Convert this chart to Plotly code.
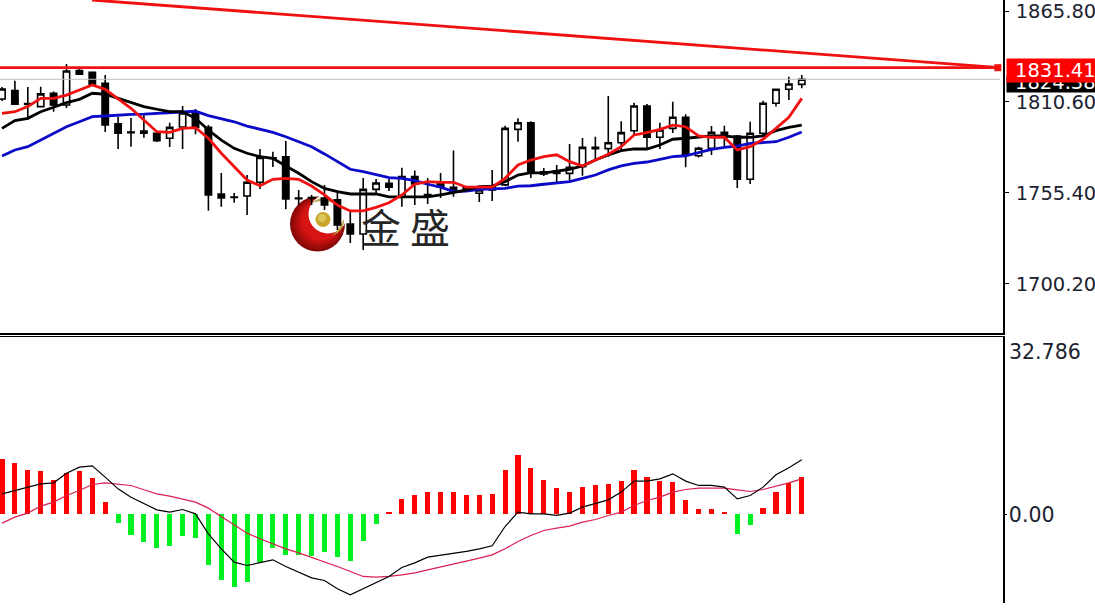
import plotly.graph_objects as go

idx = list(range(63))
opens = [1812.4,1817.5,1809.7,1807.8,1815.9,1808.8,1829.6,1828.6,1821.9,1797.3,1792.4,1793.0,1791.6,1788.6,1795.4,1803.9,1795.2,1754.8,1753.0,1753.6,1761.9,1776.8,1777.4,1752.4,1752.6,1752.4,1751.2,1736.6,1730.5,1757.6,1761.3,1753.1,1765.3,1754.4,1760.9,1758.9,1759.0,1755.2,1759.6,1760.3,1794.0,1798.0,1768.3,1768.7,1767.3,1771.3,1783.1,1782.3,1785.9,1793.2,1808.2,1789.2,1794.6,1801.3,1778.0,1782.5,1792.2,1790.0,1763.7,1791.6,1809.8,1818.3,1821.3]
highs = [1819.7,1823.5,1819.7,1819.9,1816.9,1833.6,1832.0,1829.0,1827.0,1801.7,1800.9,1802.7,1792.6,1798.0,1808.2,1806.4,1796.6,1767.5,1755.4,1766.3,1782.1,1780.4,1786.9,1757.2,1754.2,1760.2,1756.2,1744.1,1764.5,1763.9,1763.9,1770.7,1769.0,1764.5,1767.5,1781.1,1759.6,1759.6,1769.4,1796.2,1800.7,1798.9,1770.6,1772.4,1785.1,1788.8,1789.5,1814.2,1798.9,1810.2,1809.4,1798.0,1810.8,1803.1,1783.5,1796.0,1796.2,1790.6,1798.6,1811.4,1818.8,1825.9,1827.0]
lows = [1811.2,1808.8,1799.7,1807.6,1804.7,1807.0,1827.4,1820.6,1792.4,1782.1,1783.5,1788.9,1786.3,1783.3,1782.1,1791.0,1744.7,1747.1,1749.5,1742.0,1757.8,1771.2,1745.5,1748.1,1748.1,1745.1,1733.0,1725.1,1720.8,1754.2,1756.6,1747.1,1748.1,1748.7,1752.4,1753.1,1756.0,1749.9,1750.5,1759.6,1786.5,1764.5,1765.7,1761.4,1761.6,1765.9,1775.4,1777.4,1781.5,1791.2,1782.1,1782.1,1791.8,1771.0,1777.0,1778.5,1783.3,1758.4,1760.9,1790.6,1807.8,1811.8,1818.9]
closes = [1818.5,1809.2,1809.1,1815.5,1808.8,1829.4,1827.4,1820.9,1796.6,1791.6,1792.0,1791.6,1787.1,1795.2,1803.9,1795.2,1754.2,1752.4,1752.7,1761.9,1777.0,1776.4,1751.8,1752.0,1752.2,1748.1,1736.0,1730.5,1757.6,1761.5,1758.9,1765.3,1760.9,1754.0,1759.0,1756.2,1756.8,1757.2,1757.2,1794.6,1798.0,1767.7,1766.9,1767.3,1771.0,1783.1,1782.3,1785.9,1792.0,1808.2,1789.2,1793.6,1801.3,1778.9,1782.5,1792.2,1789.2,1763.7,1791.6,1809.8,1818.3,1821.5,1824.4]

ma_red = [1803.7,1804.7,1807.8,1812.8,1812.8,1814.8,1817.9,1820.9,1818.3,1812.8,1806.8,1799.7,1792.6,1792.2,1794.6,1795.0,1788.6,1779.5,1771.4,1763.3,1759.8,1763.7,1764.3,1763.7,1759.6,1754.2,1748.1,1744.5,1744.5,1746.7,1749.5,1754.2,1760.7,1762.3,1761.9,1761.9,1758.9,1758.9,1758.9,1764.3,1772.4,1775.4,1777.4,1778.6,1774.4,1771.8,1775.4,1778.9,1783.5,1790.6,1792.0,1794.0,1796.6,1795.6,1790.0,1789.2,1789.2,1781.5,1783.5,1788.0,1794.6,1801.3,1812.8]
ma_black = [1794.6,1799.3,1800.7,1804.7,1807.4,1810.2,1812.2,1815.9,1815.3,1812.8,1810.4,1807.8,1806.2,1804.7,1804.7,1800.7,1793.6,1787.5,1782.5,1779.5,1777.4,1776.4,1771.8,1767.4,1762.3,1758.2,1756.2,1754.8,1754.8,1754.8,1753.1,1753.1,1753.1,1753.1,1754.2,1755.6,1757.2,1759.2,1759.6,1762.3,1766.3,1767.7,1767.4,1768.7,1769.8,1771.8,1775.4,1778.5,1781.1,1782.1,1782.1,1784.5,1788.0,1788.6,1789.2,1790.0,1790.0,1789.2,1789.2,1790.0,1793.2,1795.2,1796.6]
ma_blue = [1777.8,1781.5,1783.5,1787.6,1791.6,1795.6,1798.6,1801.7,1802.1,1802.7,1803.1,1803.3,1803.7,1804.4,1804.7,1805.0,1802.3,1800.3,1798.6,1796.0,1794.0,1792.2,1789.5,1786.5,1783.5,1779.1,1774.4,1769.8,1768.3,1766.3,1764.7,1764.3,1762.9,1760.7,1758.9,1756.2,1756.6,1757.6,1757.8,1758.2,1759.6,1759.8,1760.7,1761.3,1762.3,1764.3,1766.3,1769.4,1771.8,1773.4,1774.2,1775.8,1777.4,1778.0,1779.8,1781.9,1783.1,1783.9,1785.5,1786.2,1786.5,1789.2,1792.4]

hist = [10.28,9.54,8.25,8.0,6.4,7.7,8.0,6.7,2.28,-1.54,-3.88,-5.11,-6.22,-5.91,-4.06,-4.37,-9.24,-12.19,-13.42,-12.38,-8.8,-6.16,-7.45,-7.57,-7.7,-6.96,-7.76,-8.5,-4.93,-1.79,0.49,2.77,3.63,4.13,4.13,4.13,3.63,3.63,3.82,8.25,11.08,8.5,6.4,4.86,4.13,5.17,5.42,5.66,6.16,8.25,6.96,6.16,5.91,2.59,1.05,1.05,0.49,-3.57,-2.03,1.29,4.13,5.85,6.96]
macd = [3.82,4.43,4.93,5.66,5.85,7.63,8.74,8.99,6.9,4.74,3.2,1.97,0.86,0.43,0.92,0.12,-3.57,-6.34,-8.8,-9.42,-8.93,-8.37,-9.6,-10.65,-11.7,-12.19,-13.73,-14.84,-13.73,-12.62,-11.45,-9.8,-8.93,-7.88,-7.57,-7.14,-6.83,-6.34,-5.79,-2.22,0.43,0.12,0.12,-0.18,0.25,1.35,1.97,2.71,4.13,6.16,6.16,6.59,7.51,6.16,5.36,5.36,5.05,2.89,3.51,5.05,7.33,8.62,10.1]
signal = [-1.6,-0.49,0.25,1.54,2.28,3.51,4.43,5.54,5.85,5.66,5.36,4.56,3.82,3.39,2.89,2.28,1.17,-0.37,-2.03,-3.45,-4.49,-5.42,-6.34,-7.08,-7.88,-8.68,-9.6,-10.53,-11.45,-11.57,-11.45,-11.14,-10.77,-10.22,-9.73,-9.11,-8.62,-8.07,-7.45,-6.34,-4.99,-3.88,-2.96,-2.52,-2.15,-1.42,-0.92,-0.18,0.43,1.66,2.59,3.2,4.13,4.62,4.86,4.86,4.86,4.56,4.25,4.62,5.17,5.85,6.59]

trend_x = [6.98, 77.35]
trend_y = [1872.47, 1831.41]
level_x = [-0.155, 77.35]
level_y = [1831.41, 1831.41]
price_ticks = [1700.20, 1755.40, 1810.60, 1865.80]
price_labels = ["1700.20", "1755.40", "1810.60", "1865.80"]
last_price = 1824.38
W, H = 1095, 612
FONT = "DejaVu Sans"
INK = "#1c2230"
TXT = 19.5


def px(x):
    return x / W


def py(y):
    return 1 - y / H


fig = go.Figure()
fig.add_trace(go.Scatter(x=level_x, y=[last_price, last_price], mode="lines",
                         line=dict(color="#bdbdbd", width=1), hoverinfo="skip"))
fig.add_trace(go.Candlestick(x=idx, open=opens, high=highs, low=lows, close=closes,
                             whiskerwidth=0,
                             increasing=dict(line=dict(color="#000000", width=1.6), fillcolor="#ffffff"),
                             decreasing=dict(line=dict(color="#000000", width=1.6), fillcolor="#000000")))
for vals, col in ((ma_blue, "#0a0ac8"), (ma_black, "#000000"), (ma_red, "#f01010")):
    fig.add_trace(go.Scatter(x=idx, y=vals, mode="lines", line=dict(color=col, width=2.8)))
fig.add_trace(go.Scatter(x=trend_x, y=trend_y, mode="lines", line=dict(color="#f01010", width=2.8)))
fig.add_trace(go.Scatter(x=level_x, y=level_y, mode="lines", line=dict(color="#f01010", width=2.8)))
fig.add_trace(go.Scatter(x=[77.2], y=[1831.41], mode="markers",
                         marker=dict(symbol="square", size=7, color="#f01010",
                                     line=dict(color="#000000", width=0))))

hist_colors = ["#ff0000" if v >= 0 else "#00f020" for v in hist]
fig.add_trace(go.Bar(x=idx, y=hist, xaxis="x2", yaxis="y2", width=0.4,
                     marker=dict(color=hist_colors, line=dict(width=0))))
fig.add_trace(go.Scatter(x=idx, y=signal, xaxis="x2", yaxis="y2", mode="lines",
                         line=dict(color="#dc1e50", width=1.2)))
fig.add_trace(go.Scatter(x=idx, y=macd, xaxis="x2", yaxis="y2", mode="lines",
                         line=dict(color="#000000", width=1.2)))

# logo drawn beneath the price marks
logo = []


def circle(cx, cy, r, color):
    logo.append(dict(type="circle", xref="paper", yref="paper", layer="below",
                     x0=px(cx - r), x1=px(cx + r), y0=py(cy + r), y1=py(cy - r),
                     fillcolor=color, line=dict(width=0)))


circle(317.5, 224, 27.5, "#860909")
circle(318.2, 223.3, 26, "#960a0a")
circle(318.9, 222.6, 24.5, "#a60c0c")
circle(319.6, 221.9, 23, "#b60e0e")
circle(320.3, 221.2, 21.5, "#c61010")
circle(321, 220.5, 20, "#d61414")
circle(328, 214, 19.5, "#ffffff")
circle(323, 219.5, 7.5, "#c9a52a")
circle(322, 218, 4, "#dcc55a")
logo.append(dict(type="path", xref="paper", yref="paper", layer="below",
                 path=f"M {px(312)} {py(203)} Q {px(324)} {py(193)} {px(334)} {py(203)} Q {px(322)} {py(199)} {px(312)} {py(203)} Z",
                 fillcolor="#b7a34a", line=dict(width=0)))
logo.append(dict(type="path", xref="paper", yref="paper", layer="below",
                 path=f"M {px(332)} {py(236)} Q {px(345)} {py(230)} {px(344)} {py(219)} Q {px(339)} {py(230)} {px(332)} {py(236)} Z",
                 fillcolor="#b7a34a", line=dict(width=0)))

annots = []


def tag(y0, y1, color):
    annots.append(dict(xref="paper", yref="paper", x=px(1006), y=py(y0), xanchor="left", yanchor="top",
                       text="&nbsp;", showarrow=False, bgcolor=color, width=89, height=y1 - y0,
                       borderpad=0, font=dict(size=8, color=color)))


def label(text, x, y, color=INK, width=None, size=TXT):
    a = dict(xref="paper", yref="paper", x=px(x), y=py(y), xanchor="left", yanchor="middle",
             text=text, showarrow=False, borderpad=0, align="left",
             font=dict(family=FONT, size=size, color=color))
    if width:
        a["width"] = width
        a["height"] = 22
    annots.append(a)


annots.append(dict(xref="paper", yref="paper", x=px(405.5), y=py(226), xanchor="center", yanchor="middle",
                   text="金 盛", showarrow=False, font=dict(family="Noto Sans CJK SC", size=40, color="#262626")))
tag(76, 91, "#000000")
label(f"{last_price:.2f}", 1014, 82, "#ffffff", width=81)
tag(58, 81, "#ff0000")
label("1831.41", 1014, 70, "#ffffff", width=81)
label("32.786", 1008, 352, size=20.5)

fig.update_layout(
    width=W, height=H, margin=dict(l=0, r=0, t=0, b=0, autoexpand=False), autosize=False,
    paper_bgcolor="#ffffff", plot_bgcolor="rgba(0,0,0,0)", showlegend=False,
    shapes=logo, annotations=annots, hovermode=False, bargap=0,
    xaxis=dict(domain=[0, 1003 / W], range=[-0.155, 77.6], showgrid=False, zeroline=False,
               showticklabels=False, ticks="", rangeslider=dict(visible=False),
               showline=True, linecolor="#000000", linewidth=1.5, anchor="y"),
    yaxis=dict(domain=[py(333), 1], range=[1670.47, 1872.47], side="right", anchor="x",
               tickmode="array", tickvals=price_ticks, ticktext=price_labels,
               ticks="outside", ticklen=4, tickcolor="#000000", ticklabelstandoff=3,
               ticklabeloverflow="allow", tickfont=dict(family=FONT, size=TXT, color=INK),
               showgrid=False, zeroline=False, showline=True, linecolor="#000000", linewidth=1.5),
    xaxis2=dict(domain=[0, 1003 / W], range=[-0.155, 77.6], showgrid=False, zeroline=False,
                showticklabels=False, ticks="", side="top", anchor="y2",
                showline=True, linecolor="#000000", linewidth=1),
    yaxis2=dict(domain=[py(603), py(337)], range=[-16.35, 32.786], side="right", anchor="x2",
                tickmode="array", tickvals=[0], ticktext=["0.00"],
                ticks="outside", ticklen=2, tickcolor="#000000", ticklabelstandoff=-2,
                ticklabeloverflow="allow", tickfont=dict(family=FONT, size=20.5, color=INK),
                showgrid=False, zeroline=False, showline=True, linecolor="#000000", linewidth=1.5),
)

fig.write_html("out.html", config={"displayModeBar": False},
               post_script="document.body.style.margin='0';document.body.style.overflow='hidden';")
